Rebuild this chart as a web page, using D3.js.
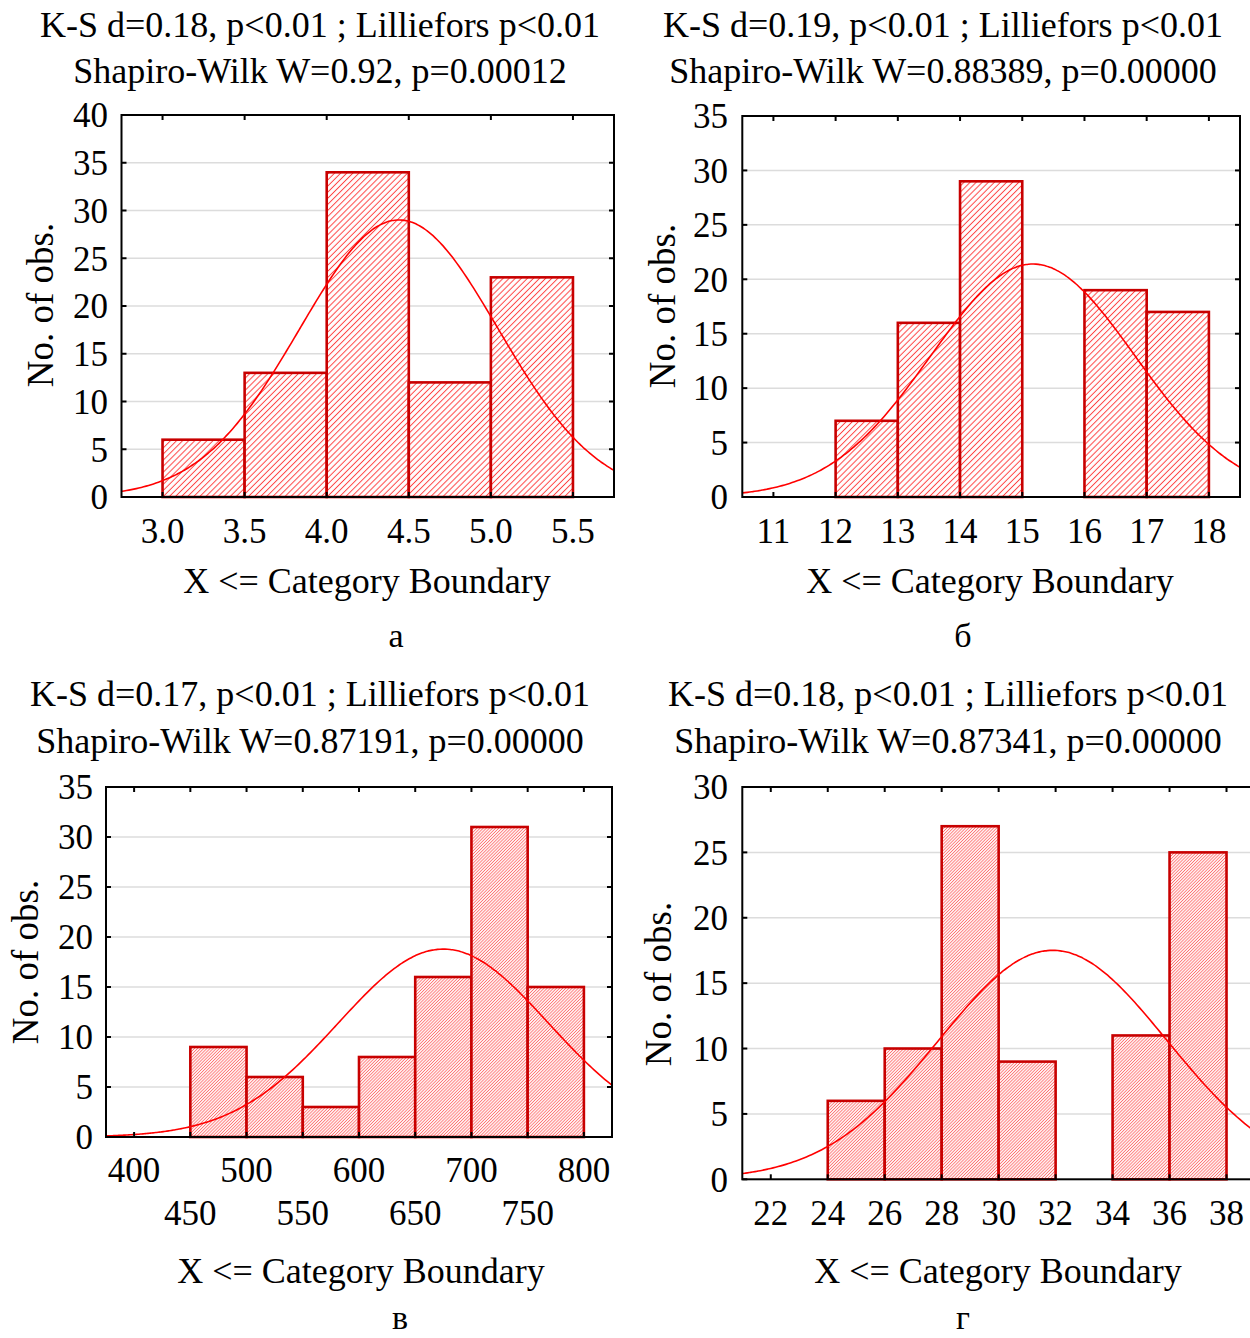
<!DOCTYPE html>
<html>
<head>
<meta charset="utf-8">
<script src="https://cdn.jsdelivr.net/npm/d3@7"></script>
<style>
  body { margin: 0; background: #fff; }
  svg { display: block; }
  text { font-family: "Liberation Serif", "Times New Roman", serif; fill: #000; }
</style>
</head>
<body>
<div id="chart"></div>
<script>
// --- data ---
var edgesA = [3.0, 3.5, 4.0, 4.5, 5.0, 5.5];
var countsA = [6, 13, 34, 12, 23];
var xTicksA = [3.0, 3.5, 4.0, 4.5, 5.0, 5.5];
var yTicksA = [0, 5, 10, 15, 20, 25, 30, 35, 40];

var edgesB = [12, 13, 14, 15, 16, 17, 18];
var countsB = [7, 16, 29, 0, 19, 17];
var xTicksB = [11, 12, 13, 14, 15, 16, 17, 18];
var yTicksB = [0, 5, 10, 15, 20, 25, 30, 35];

var edgesC = [450, 500, 550, 600, 650, 700, 750, 800];
var countsC = [9, 6, 3, 8, 16, 31, 15];
var xTicksC = [400, 450, 500, 550, 600, 650, 700, 750, 800];
var yTicksC = [0, 5, 10, 15, 20, 25, 30, 35];

var edgesD = [24, 26, 28, 30, 32, 34, 36, 38];
var countsD = [6, 10, 27, 9, 0, 11, 25];
var xTicksD = [22, 24, 26, 28, 30, 32, 34, 36, 38];
var yTicksD = [0, 5, 10, 15, 20, 25, 30];

// fitted normal: mean and sd per panel
var fitMeans = [4.44, 15.17, 675, 31.9];
var fitSds = [0.605, 1.64, 93.4, 4.01];

var ksTitles = [
  "K-S d=0.18, p<0.01 ; Lilliefors p<0.01",
  "K-S d=0.19, p<0.01 ; Lilliefors p<0.01",
  "K-S d=0.17, p<0.01 ; Lilliefors p<0.01",
  "K-S d=0.18, p<0.01 ; Lilliefors p<0.01"
];
var swTitles = [
  "Shapiro-Wilk W=0.92, p=0.00012",
  "Shapiro-Wilk W=0.88389, p=0.00000",
  "Shapiro-Wilk W=0.87191, p=0.00000",
  "Shapiro-Wilk W=0.87341, p=0.00000"
];
var subLabels = ["а", "б", "в", "г"];
var xTitle = "X <= Category Boundary";
var yTitle = "No. of obs.";

// --- layout ---
var panels = [
  { edges: edgesA, counts: countsA, xTicks: xTicksA, yTicks: yTicksA, xDom: [2.75, 5.75], yDom: [0, 40], fmt: d3.format(".1f"),
    l: 121.5, t: 115, r: 614, b: 497, tx: 320, ty: [37, 83], yx: 40, yy: 305, tickY: [543], xtX: 367, xtY: 593, sx: 396, sy: 647, ylr: 108, hatch: 4.3 },
  { edges: edgesB, counts: countsB, xTicks: xTicksB, yTicks: yTicksB, xDom: [10.5, 18.5], yDom: [0, 35], fmt: d3.format("d"),
    l: 742.3, t: 116, r: 1240, b: 497, tx: 943, ty: [37, 83], yx: 662, yy: 306, tickY: [543], xtX: 990, xtY: 593, sx: 963, sy: 647, ylr: 728, hatch: 4.3 },
  { edges: edgesC, counts: countsC, xTicks: xTicksC, yTicks: yTicksC, xDom: [375, 825], yDom: [0, 35], fmt: d3.format("d"),
    l: 106, t: 787, r: 612, b: 1137, tx: 310, ty: [706, 753], yx: 25, yy: 962, tickY: [1182, 1225], xtX: 361, xtY: 1283, sx: 400, sy: 1329, ylr: 93, hatch: 2.2 },
  { edges: edgesD, counts: countsD, xTicks: xTicksD, yTicks: yTicksD, xDom: [21, 39], yDom: [0, 30], fmt: d3.format("d"),
    l: 742.3, t: 787, r: 1255, b: 1179.3, tx: 948, ty: [706, 753], yx: 658, yy: 984, tickY: [1225], xtX: 998, xtY: 1283, sx: 963, sy: 1329, ylr: 728, hatch: 2.2 }
];

var W = 1250, H = 1338;

var svg = d3.select("#chart").append("svg")
  .attr("width", W)
  .attr("height", H);

var defs = svg.append("defs");

function normalCurve(mean, sd, n, binW, dom) {
  var pts = [];
  var steps = 200;
  for (var i = 0; i <= steps; i++) {
    var x = dom[0] + (dom[1] - dom[0]) * i / steps;
    var z = (x - mean) / sd;
    pts.push([x, n * binW / (sd * Math.sqrt(2 * Math.PI)) * Math.exp(-0.5 * z * z)]);
  }
  return pts;
}

panels.forEach(function(p, k) {
  var x = d3.scaleLinear().domain(p.xDom).range([p.l, p.r]);
  var y = d3.scaleLinear().domain(p.yDom).range([p.b, p.t]);
  var g = svg.append("g");

  // hatch pattern
  var pid = "hatch" + k;
  var pat = defs.append("pattern")
    .attr("id", pid)
    .attr("patternUnits", "userSpaceOnUse")
    .attr("width", p.hatch)
    .attr("height", p.hatch)
    .attr("patternTransform", "rotate(45)");
  pat.append("rect").attr("width", p.hatch).attr("height", p.hatch).attr("fill", "#fff");
  pat.append("line")
    .attr("x1", p.hatch / 2).attr("x2", p.hatch / 2)
    .attr("y1", 0).attr("y2", p.hatch)
    .attr("stroke", p.hatch > 3 ? "#ff4444" : "#ff7070")
    .attr("stroke-width", p.hatch > 3 ? 1 : 0.9);

  var cid = "clip" + k;
  defs.append("clipPath").attr("id", cid)
    .append("rect")
    .attr("x", p.l).attr("y", p.t)
    .attr("width", p.r - p.l).attr("height", p.b - p.t);

  // gridlines
  g.selectAll(".grid")
    .data(p.yTicks.filter(function(d){ return d > p.yDom[0] && d < p.yDom[1]; }))
    .enter().append("line")
    .attr("x1", p.l).attr("x2", p.r)
    .attr("y1", function(d){ return y(d); })
    .attr("y2", function(d){ return y(d); })
    .attr("stroke", "#dcdcdc")
    .attr("stroke-width", 1.5);

  // bars
  var bins = p.counts.map(function(c, i){ return { x0: p.edges[i], x1: p.edges[i + 1], n: c }; })
    .filter(function(d){ return d.n > 0; });
  g.selectAll(".bar")
    .data(bins)
    .enter().append("rect")
    .attr("x", function(d){ return x(d.x0); })
    .attr("y", function(d){ return y(d.n); })
    .attr("width", function(d){ return x(d.x1) - x(d.x0); })
    .attr("height", function(d){ return y(0) - y(d.n); })
    .attr("fill", "url(#" + pid + ")")
    .attr("stroke", "#c80000")
    .attr("stroke-width", 2.6);

  // normal fit
  var n = d3.sum(p.counts);
  var binW = p.edges[1] - p.edges[0];
  var line = d3.line()
    .x(function(d){ return x(d[0]); })
    .y(function(d){ return y(d[1]); })
    .curve(d3.curveBasis);
  g.append("path")
    .datum(normalCurve(fitMeans[k], fitSds[k], n, binW, p.xDom))
    .attr("clip-path", "url(#" + cid + ")")
    .attr("d", line)
    .attr("fill", "none")
    .attr("stroke", "#ff0000")
    .attr("stroke-width", 1.6);

  // frame
  g.append("rect")
    .attr("x", p.l).attr("y", p.t)
    .attr("width", p.r - p.l).attr("height", p.b - p.t)
    .attr("fill", "none")
    .attr("stroke", "#000")
    .attr("stroke-width", 2);

  // inside ticks
  var tl = 5;
  p.xTicks.forEach(function(v){
    g.append("line").attr("x1", x(v)).attr("x2", x(v)).attr("y1", p.t).attr("y2", p.t + tl)
      .attr("stroke", "#000").attr("stroke-width", 2);
    g.append("line").attr("x1", x(v)).attr("x2", x(v)).attr("y1", p.b).attr("y2", p.b - tl)
      .attr("stroke", "#000").attr("stroke-width", 2);
  });
  p.yTicks.forEach(function(v){
    g.append("line").attr("x1", p.l).attr("x2", p.l + tl).attr("y1", y(v)).attr("y2", y(v))
      .attr("stroke", "#000").attr("stroke-width", 2);
    g.append("line").attr("x1", p.r).attr("x2", p.r - tl).attr("y1", y(v)).attr("y2", y(v))
      .attr("stroke", "#000").attr("stroke-width", 2);
  });

  // tick labels
  g.selectAll(".ylab")
    .data(p.yTicks)
    .enter().append("text")
    .attr("x", p.ylr)
    .attr("y", function(d){ return y(d); })
    .attr("dy", "0.35em")
    .attr("text-anchor", "end")
    .style("font-size", "35px")
    .text(function(d){ return d; });

  g.selectAll(".xlab")
    .data(p.xTicks)
    .enter().append("text")
    .attr("x", function(d){ return x(d); })
    .attr("y", function(d, i){ return p.tickY[i % p.tickY.length]; })
    .attr("text-anchor", "middle")
    .style("font-size", "35px")
    .text(function(d){ return p.fmt(d); });

  // titles
  g.append("text")
    .attr("x", p.tx).attr("y", p.ty[0])
    .attr("text-anchor", "middle")
    .style("font-size", "36px")
    .text(ksTitles[k]);
  g.append("text")
    .attr("x", p.tx).attr("y", p.ty[1])
    .attr("text-anchor", "middle")
    .style("font-size", "36px")
    .text(swTitles[k]);

  g.append("text")
    .attr("transform", "translate(" + p.yx + "," + p.yy + ") rotate(-90)")
    .attr("dy", "0.35em")
    .attr("text-anchor", "middle")
    .style("font-size", "37px")
    .text(yTitle);

  g.append("text")
    .attr("x", p.xtX).attr("y", p.xtY)
    .attr("text-anchor", "middle")
    .style("font-size", "36px")
    .text(xTitle);

  g.append("text")
    .attr("x", p.sx).attr("y", p.sy)
    .attr("text-anchor", "middle")
    .style("font-size", "34px")
    .text(subLabels[k]);
});
</script>
</body>
</html>
